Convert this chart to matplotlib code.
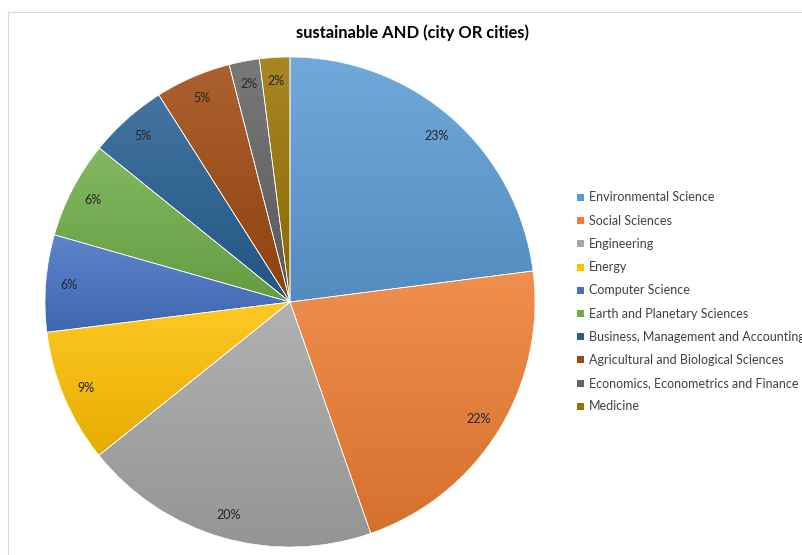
import numpy as np
import matplotlib
matplotlib.use("Agg")
import matplotlib.pyplot as plt
from matplotlib.colors import to_rgb
from matplotlib.patches import Rectangle
from matplotlib.lines import Line2D

title = "sustainable AND (city OR cities)"
categories = [
    "Environmental Science",
    "Social Sciences",
    "Engineering",
    "Energy",
    "Computer Science",
    "Earth and Planetary Sciences",
    "Business, Management and Accounting",
    "Agricultural and Biological Sciences",
    "Economics, Econometrics and Finance",
    "Medicine",
]
shares = [23.0, 21.7, 19.6, 8.8, 6.4, 6.4, 5.2, 5.0, 2.0, 2.0]
colors = ["#5B9BD5", "#ED7D31", "#A5A5A5", "#FFC000", "#4472C4",
          "#70AD47", "#255E91", "#9E480E", "#636363", "#997300"]

W, H = 803, 555
fig = plt.figure(figsize=(W / 100, H / 100), dpi=100)
fig.patch.set_facecolor("white")

# pie circle: centre (290, 302) px, radius 245 px
cx, cy, r = 290, 302, 245
ax = fig.add_axes([(cx - r) / W, (H - cy - r) / H, 2 * r / W, 2 * r / H])
ax.set_xlim(-1, 1)
ax.set_ylim(-1, 1)
ax.set_aspect("equal")
ax.axis("off")

font = ["Lato", "DejaVu Sans"]

wedges, texts, autotexts = ax.pie(
    shares, startangle=90, counterclock=False, radius=1,
    autopct="%.0f%%", pctdistance=0.905,
    wedgeprops=dict(edgecolor="white", linewidth=0.5),
    textprops=dict(fontsize=9, color="#262626", family=font),
)


def tint(c, f):
    c = np.array(to_rgb(c))
    return c + (1 - c) * f


def shade(c, f):
    return np.array(to_rgb(c)) * f


# vertical gradient fill inside each wedge, lighter at the top
for w, c in zip(wedges, colors):
    ext = w.get_path().get_extents()
    top = tint(c, 0.14)
    bot = shade(c, 0.9)
    t = np.linspace(0, 1, 256)[:, None]
    grad = top[None, :] * (1 - t) + bot[None, :] * t
    img = ax.imshow(grad[:, None, :], extent=[ext.x0, ext.x1, ext.y0, ext.y1],
                    origin="upper", aspect="auto", interpolation="bilinear",
                    zorder=1)
    img.set_clip_path(w)
    w.set_facecolor("none")
    w.set_zorder(2)
for t in autotexts:
    t.set_zorder(3)
ax.set_xlim(-1, 1)
ax.set_ylim(-1, 1)

fig.text(412 / W, 1 - 33 / H, title, ha="center", va="center",
         fontsize=11.9, fontweight="bold", family=font, color="#000000")

# legend entries
y0, dy = 197.5, 23.2
for i, (name, c) in enumerate(zip(categories, colors)):
    y = y0 + i * dy
    fig.patches.append(Rectangle(((577) / W, 1 - (y + 3.5) / H), 7 / W, 7 / H,
                                 transform=fig.transFigure, facecolor=c,
                                 edgecolor="none"))
    fig.text(589 / W, 1 - y / H, name, ha="left", va="center",
             fontsize=9, family=font, color="#404040")

# chart area border
border = "#D9D9D9"
fig.lines.append(Line2D([8 / W, 1], [1 - 12 / H, 1 - 12 / H],
                        transform=fig.transFigure, color=border, lw=0.8))
fig.lines.append(Line2D([8 / W, 8 / W], [0, 1 - 12 / H],
                        transform=fig.transFigure, color=border, lw=0.8))

fig.savefig("out.png", dpi=100)
